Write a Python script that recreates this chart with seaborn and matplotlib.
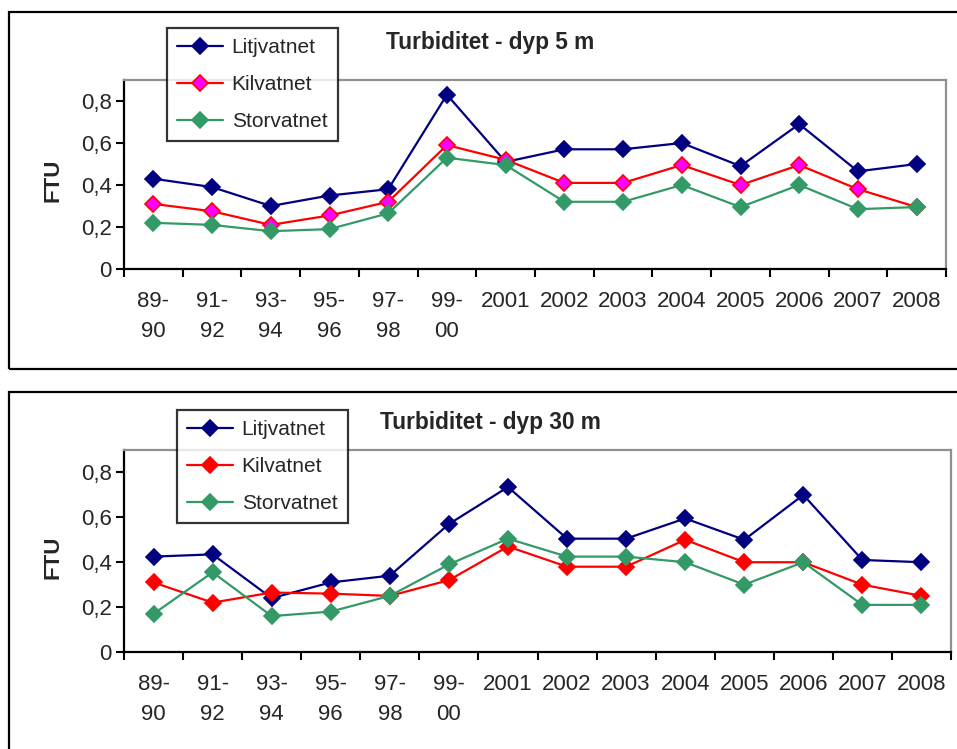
import numpy as np
import pandas as pd
import matplotlib
matplotlib.use("Agg")
import matplotlib.pyplot as plt
from matplotlib.patches import Rectangle
import seaborn as sns

periods = ["89-\n90", "91-\n92", "93-\n94", "95-\n96", "97-\n98", "99-\n00", "2001",
           "2002", "2003", "2004", "2005", "2006", "2007", "2008"]
lakes = ["Litjvatnet", "Kilvatnet", "Storvatnet"]

# dyp 5 m
litj_5 = [0.43, 0.39, 0.30, 0.35, 0.38, 0.83, 0.51, 0.57, 0.57, 0.60, 0.49, 0.69, 0.465, 0.50]
kil_5 = [0.31, 0.275, 0.21, 0.255, 0.32, 0.59, 0.52, 0.41, 0.41, 0.495, 0.40, 0.495, 0.38, 0.295]
stor_5 = [0.22, 0.21, 0.18, 0.19, 0.265, 0.53, 0.495, 0.32, 0.32, 0.40, 0.295, 0.40, 0.285, 0.295]

# dyp 30 m
litj_30 = [0.425, 0.435, 0.24, 0.31, 0.34, 0.57, 0.735, 0.505, 0.505, 0.595, 0.50, 0.70, 0.41, 0.40]
kil_30 = [0.31, 0.22, 0.265, 0.26, 0.25, 0.32, 0.47, 0.38, 0.38, 0.50, 0.40, 0.40, 0.30, 0.25]
stor_30 = [0.17, 0.355, 0.16, 0.18, 0.25, 0.39, 0.505, 0.425, 0.425, 0.40, 0.30, 0.40, 0.21, 0.21]

ytick_vals = [0, 0.2, 0.4, 0.6, 0.8]
ytick_labels = ["0", "0,2", "0,4", "0,6", "0,8"]

titles = ["Turbiditet - dyp 5 m", "Turbiditet - dyp 30 m"]

line_colors = {"Litjvatnet": "#000080", "Kilvatnet": "#FF0000", "Storvatnet": "#339966"}

sns.set_style("white")
plt.rcParams["font.family"] = ["Liberation Sans", "DejaVu Sans"]

fig = plt.figure(figsize=(9.57, 7.49), dpi=100)
W, H = 957, 749


def fx(px):
    return px / W


def fy(py):
    return 1 - py / H


# panel frames
fig.add_artist(Rectangle((fx(9), fy(369)), fx(960) - fx(9), fy(12) - fy(369),
                         transform=fig.transFigure, fill=False, ec="black", lw=1.6))
fig.add_artist(Rectangle((fx(9), fy(760)), fx(960) - fx(9), fy(392) - fy(760),
                         transform=fig.transFigure, fill=False, ec="black", lw=1.6))

ax_top = fig.add_axes([fx(124), fy(269), fx(946) - fx(124), fy(80) - fy(269)])
ax_bot = fig.add_axes([fx(124), fy(652), fx(951) - fx(124), fy(450) - fy(652)])

panels = [
    (ax_top, [litj_5, kil_5, stor_5], "#FF00FF", (fx(167), fy(28)), fy(42)),
    (ax_bot, [litj_30, kil_30, stor_30], "#FF0000", (fx(177), fy(410)), fy(422)),
]

for i, (ax, series, kil_face, leg_pos, title_y) in enumerate(panels):
    for name, vals in zip(lakes, series):
        df = pd.DataFrame({"x": np.arange(len(periods)), "FTU": vals})
        face = kil_face if name == "Kilvatnet" else line_colors[name]
        sns.lineplot(data=df, x="x", y="FTU", ax=ax, color=line_colors[name],
                     marker="D", markersize=8, markerfacecolor=face,
                     markeredgecolor=line_colors[name], markeredgewidth=1.2,
                     linewidth=1.6, label=name)

    ax.set_xlim(-0.5, len(periods) - 0.5)
    ax.set_ylim(0, 0.9)
    ax.set_xticks(np.arange(len(periods)))
    ax.set_xticklabels(periods, fontsize=16, linespacing=1.55)
    ax.set_xticks(np.arange(-0.5, len(periods), 1), minor=True)
    ax.tick_params(axis="x", which="major", length=0, pad=16)
    ax.tick_params(axis="x", which="minor", length=6, width=1.5, direction="out",
                   bottom=True, color="black")
    ax.set_yticks(ytick_vals)
    ax.set_yticklabels(ytick_labels, fontsize=16)
    ax.tick_params(axis="y", length=6, width=1.5, direction="out", left=True,
                   color="black", pad=3)
    ax.set_xlabel("")
    ax.set_ylabel("FTU", fontsize=16, fontweight="bold")
    ax.yaxis.set_label_coords(-0.073, 0.47)

    for side in ["left", "bottom"]:
        ax.spines[side].set_color("black")
        ax.spines[side].set_linewidth(1.6)
    for side in ["top", "right"]:
        ax.spines[side].set_color("#909090")
        ax.spines[side].set_linewidth(1.6)
    ax.grid(False)

    leg = ax.legend(loc="upper left", bbox_to_anchor=leg_pos, bbox_transform=fig.transFigure,
                    borderaxespad=0, fontsize=15, frameon=True, fancybox=False,
                    handlelength=2.2, handletextpad=0.4, labelspacing=0.85,
                    borderpad=0.5)
    leg.get_frame().set_edgecolor("black")
    leg.get_frame().set_linewidth(1.6)
    leg.set_zorder(10)

    fig.text(fx(490), title_y, titles[i], ha="center", va="center",
             fontsize=16.3, fontweight="bold")

fig.savefig("out.png", dpi=100)
